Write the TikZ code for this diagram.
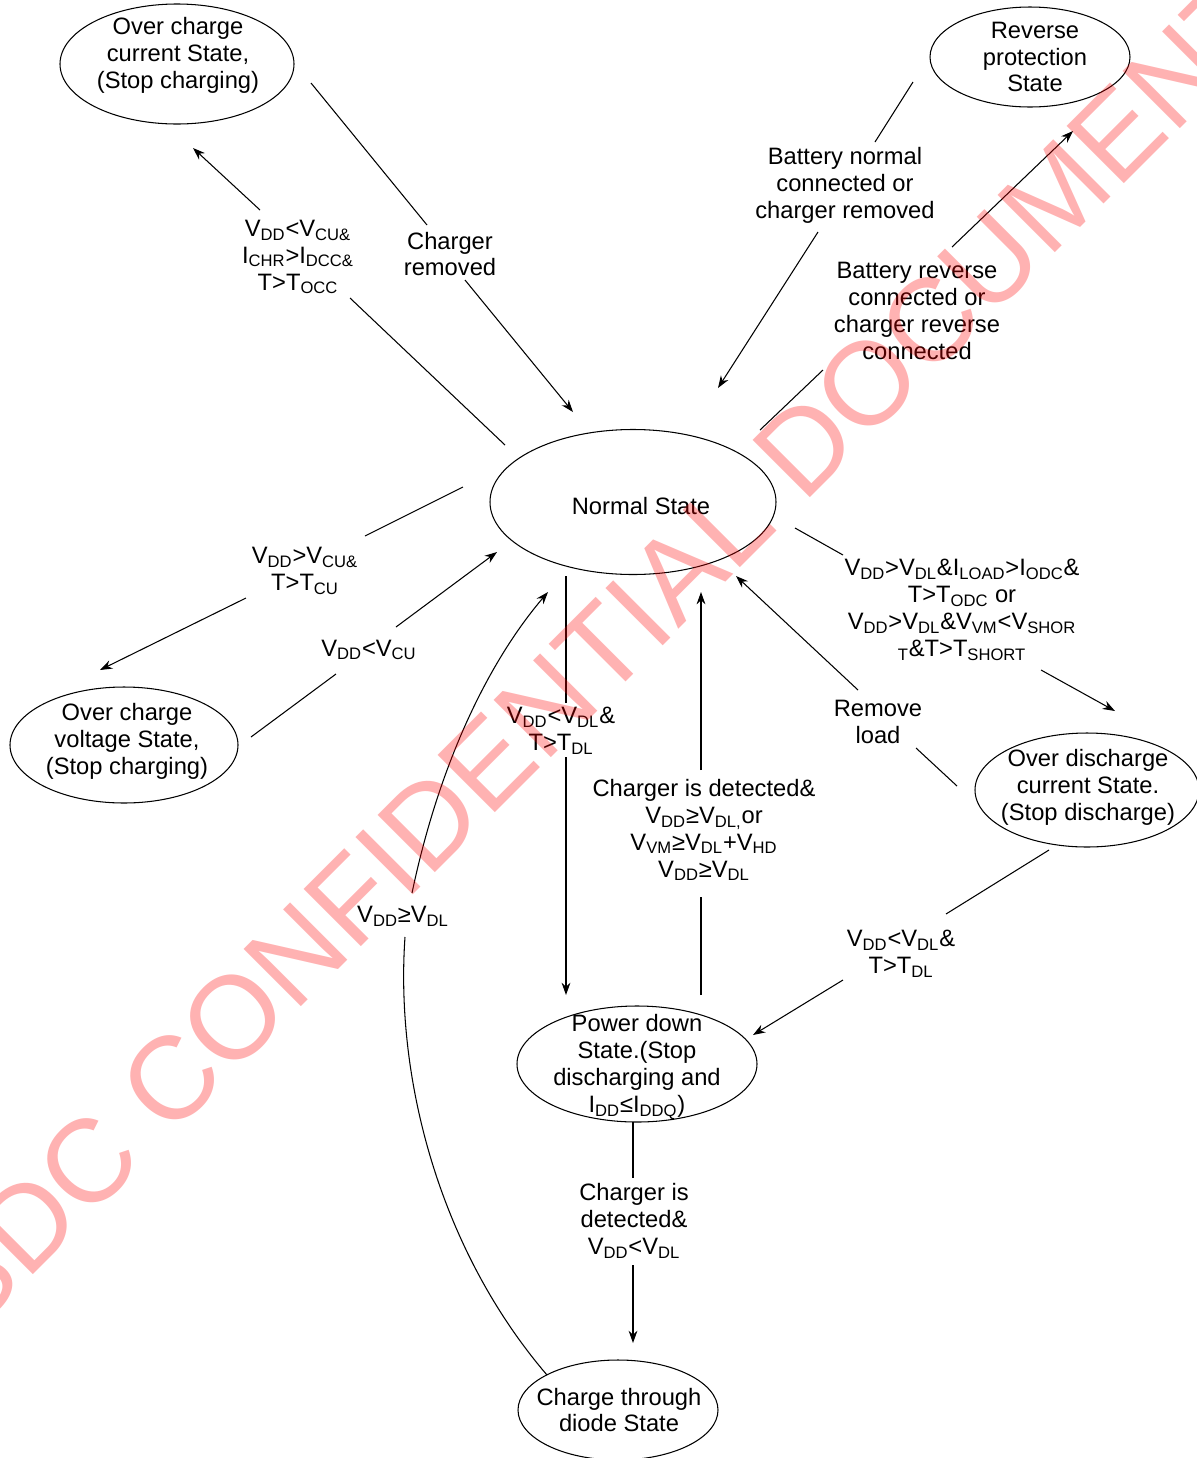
\documentclass[tikz,border=0pt]{standalone}
\usepackage{fontspec}
\setmainfont{Liberation Sans}
\usetikzlibrary{shapes.geometric,arrows.meta}
\newcommand{\sub}[1]{\textsubscript{#1}}

\begin{document}
\begin{tikzpicture}
[x=0.02cm,y=-0.02cm,%
  stateNode/.style={shape=ellipse,draw,line width=0.6pt,inner sep=0pt},%
  stateText/.style={align=center,inner sep=0pt,font=\fontsize{13.5}{15.3}\selectfont},%
  condText/.style={align=center,inner sep=0pt,font=\fontsize{13.5}{15.3}\selectfont},%
  plainLine/.style={line width=0.6pt},%
  arrowLine/.style={->,>={Stealth[length=7pt,width=5pt]},line width=0.6pt},%
  markText/.style={text=red,text opacity=0.3,inner sep=0pt,font=\fontsize{67}{67}\selectfont}]
\useasboundingbox (0,0) rectangle (1197,1458);
\clip (0,0) rectangle (1197,1458);
%% states
\foreach \nodename/\x/\y/\w/\h in {normal/633/502/286/145, occ/177/64/234/120,
  rev/1030/57/200/100, ocv/124/745/228/116, odc/1087/790/224/114,
  pd/637/1064/240/116, ctd/618/1410/200/100}
{
  \node (\nodename) at (\x,\y) [stateNode,minimum width=\w*0.02cm,minimum height=\h*0.02cm] {};
}
\node (normalText) at (641,506) [stateText] {Normal State};
\node (occText) at (178,55) [stateText] {Over charge\\current State,\\(Stop charging)};
\node (revText) at (1035,57) [stateText] {Reverse\\protection\\State};
\node (ocvText) at (127,741) [stateText] {Over charge\\voltage State,\\(Stop charging)};
\node (odcText) at (1088,787) [stateText] {Over discharge\\current State.\\(Stop discharge)};
\node (pdText) at (637,1067) [stateText] {Power down\\State.(Stop\\discharging and\\I\sub{DD}≤I\sub{DDQ})};
\node (ctdText) at (619,1410) [stateText] {Charge through\\diode State};
%% conditions
\node (toOccLabel) at (298,257) [condText] {V\sub{DD}<V\sub{CU\&}\\I\sub{CHR}>I\sub{DCC\&}\\T>T\sub{OCC}};
\node (fromOccLabel) at (450,254) [condText] {Charger\\removed};
\node (fromRevLabel) at (845,185) [condText] {Battery normal\\connected or\\charger removed};
\node (toRevLabel) at (917,311) [condText] {Battery reverse\\connected or\\charger reverse\\connected};
\node (toOcvLabel) at (305,571) [condText] {V\sub{DD}>V\sub{CU\&}\\T>T\sub{CU}};
\node (fromOcvLabel) at (369,650) [condText] {V\sub{DD}<V\sub{CU}};
\node (toOdcLabel) at (962,610) [condText] {V\sub{DD}>V\sub{DL}\&I\sub{LOAD}>I\sub{ODC}\&\\T>T\sub{ODC} or\\V\sub{DD}>V\sub{DL}\&V\sub{VM}<V\sub{SHOR}\\\sub{T}\&T>T\sub{SHORT}};
\node (fromOdcLabel) at (878,722) [condText] {Remove\\load};
\node (toPdLabel) at (561,731) [condText] {V\sub{DD}<V\sub{DL}\&\\T>T\sub{DL}};
\node (fromPdLabel) at (704,830) [condText] {Charger is detected\&\\V\sub{DD}≥V\sub{DL,}or\\V\sub{VM}≥V\sub{DL}+V\sub{HD}\\V\sub{DD}≥V\sub{DL}};
\node (odcPdLabel) at (901,954) [condText] {V\sub{DD}<V\sub{DL}\&\\T>T\sub{DL}};
\node (pdCtdLabel) at (634,1221) [condText] {Charger is\\detected\&\\V\sub{DD}<V\sub{DL}};
\node (ctdNormalLabel) at (403,916) [condText] {V\sub{DD}≥V\sub{DL}};
%% line ends
\foreach \cname/\x/\y in {toOcc1/505/445, toOcc2/350/298, toOcc3/260/210, toOcc4/193/148,
  fromOcc1/311/83, fromOcc2/427/225, fromOcc3/465/280, fromOcc4/573/412,
  fromRev1/913/82, fromRev2/875/142, fromRev3/818/232, fromRev4/718/388,
  toRev1/760/430, toRev2/823/370, toRev3/952/247, toRev4/1073/131,
  toOcv1/463/487, toOcv2/365/536, toOcv3/246/598, toOcv4/100/670,
  fromOcv1/251/737, fromOcv2/336/674, fromOcv3/396/627, fromOcv4/497/552,
  toOdc1/795/528, toOdc2/843/555, toOdc3/1041/670, toOdc4/1115/711,
  fromOdc1/957/786, fromOdc2/916/748, fromOdc3/858/690, fromOdc4/736/576,
  toPd1/566/576, toPd2/566/703, toPd3/566/757, toPd4/566/995,
  fromPd1/701/995, fromPd2/701/897, fromPd3/701/770, fromPd4/701/592,
  odcPd1/1049/850, odcPd2/946/914, odcPd3/843/980, odcPd4/753/1035,
  pdCtd1/633/1122, pdCtd2/633/1178, pdCtd3/633/1265, pdCtd4/633/1343,
  ctdNormal1/547/1375, ctdNormal2/405/937, ctdNormal3/412/893, ctdNormal4/548/592}
{
  \coordinate (\cname) at (\x,\y);
}
%% connectors, broken at their labels
\path
\foreach \edgename in {toOcc, fromOcc, fromRev, toRev, toOcv, fromOcv,
  toOdc, fromOdc, toPd, fromPd, odcPd, pdCtd}
{
  (\edgename1) edge[plainLine] (\edgename2)
  (\edgename3) edge[arrowLine] (\edgename4)
};
\draw[plainLine] (ctdNormal1) .. controls (440,1250) and (395,1080) .. (ctdNormal2);
\draw[arrowLine] (ctdNormal3) .. controls (440,760) and (490,660) .. (ctdNormal4);
%% watermark
\node (mark) at (599,652) [markText,rotate=45] {SDC CONFIDENTIAL DOCUMENT};
\end{tikzpicture}
\end{document}
